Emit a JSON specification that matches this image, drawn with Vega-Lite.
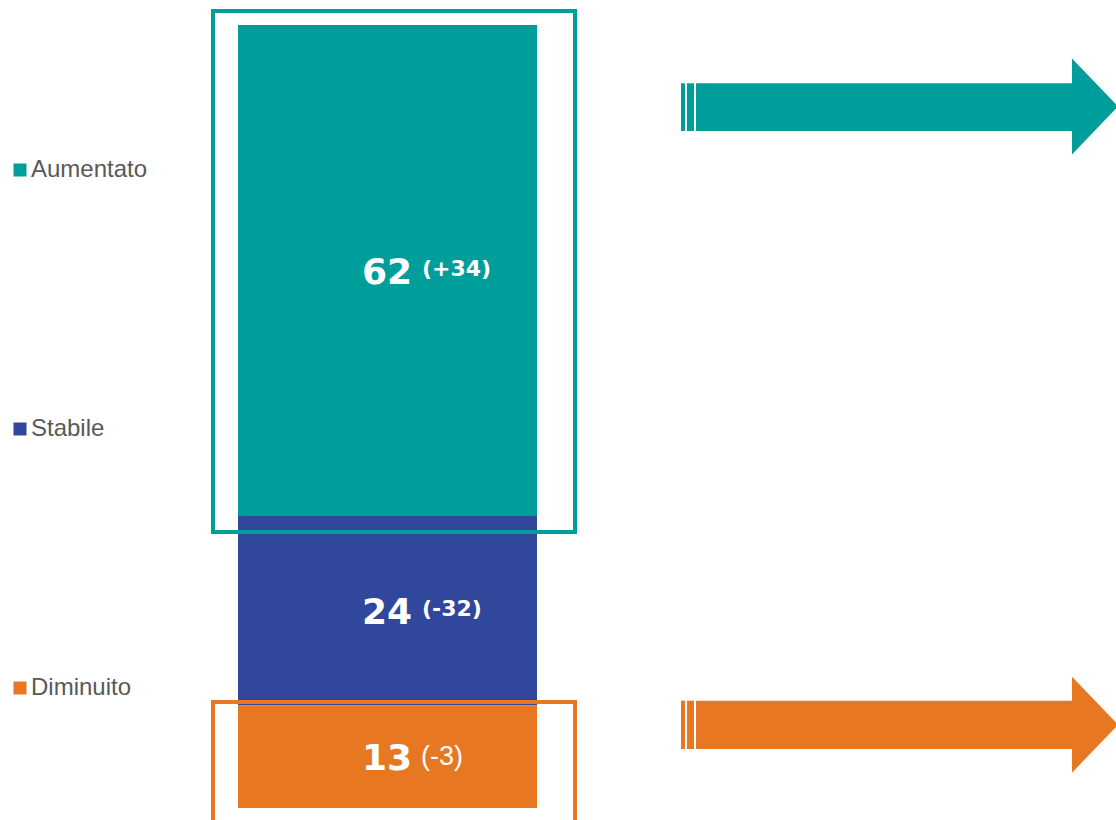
{
  "$schema": "https://vega.github.io/schema/vega-lite/v6.json",
  "width": 1116,
  "height": 820,
  "autosize": "none",
  "padding": 0,
  "background": "white",
  "config": {"view": {"stroke": null}},
  "data": {"values": [
    {"cat": "Aumentato", "value": 62, "delta": "(+34)"},
    {"cat": "Stabile", "value": 24, "delta": "(-32)"},
    {"cat": "Diminuito", "value": 13, "delta": "(-3)"}
  ]},
  "layer": [
    {
      "mark": {"type": "bar", "orient": "vertical", "strokeWidth": 0},
      "encoding": {
        "x": {"datum": 238, "type": "quantitative", "scale": {"domain": [0, 1116], "nice": false, "zero": false, "padding": 0}, "axis": null},
        "x2": {"datum": 537},
        "y": {"field": "value", "type": "quantitative", "stack": "zero", "scale": {"domain": [-1.517, 102.16], "nice": false, "zero": false, "padding": 0}, "axis": null},
        "order": {"field": "value", "sort": "ascending"},
        "color": {"field": "cat", "type": "nominal",
          "scale": {"domain": ["Aumentato", "Stabile", "Diminuito"], "range": ["#009E9B", "#31479B", "#E87722"]},
          "legend": {"orient": "none", "legendX": 8, "legendY": 158, "title": null, "padding": 0,
            "symbolType": "square", "symbolSize": 169, "symbolStrokeWidth": 0, "symbolOpacity": 1,
            "labelFont": "Liberation Sans", "labelFontSize": 24, "labelColor": "#595959", "labelOffset": -1,
            "rowPadding": 235}}
      }
    },
    {
      "data": {"values": [{}]},
      "mark": {"type": "rect", "filled": false, "stroke": "#009E9B", "strokeWidth": 4},
      "encoding": {
        "x": {"datum": 213, "type": "quantitative", "scale": {"domain": [0, 1116], "nice": false, "zero": false, "padding": 0}, "axis": null},
        "x2": {"datum": 575},
        "y": {"datum": 100.77, "type": "quantitative", "scale": {"domain": [-1.517, 102.16], "nice": false, "zero": false, "padding": 0}, "axis": null},
        "y2": {"datum": 34.9}
      }
    },
    {
      "data": {"values": [{}]},
      "mark": {"type": "rect", "filled": false, "stroke": "#E87722", "strokeWidth": 4},
      "encoding": {
        "x": {"datum": 213, "type": "quantitative", "scale": {"domain": [0, 1116], "nice": false, "zero": false, "padding": 0}, "axis": null},
        "x2": {"datum": 575},
        "y": {"datum": 13.4, "type": "quantitative", "scale": {"domain": [-1.517, 102.16], "nice": false, "zero": false, "padding": 0}, "axis": null},
        "y2": {"datum": -5}
      }
    },
    {
      "mark": {"type": "text", "font": "DejaVu Sans", "fontWeight": "bold", "fontSize": 36, "color": "white", "align": "right", "baseline": "middle", "dy": 2.5},
      "encoding": {
        "x": {"datum": 412, "type": "quantitative", "scale": {"domain": [0, 1116], "nice": false, "zero": false, "padding": 0}, "axis": null},
        "y": {"field": "value", "type": "quantitative", "stack": "zero", "bandPosition": 0.5, "scale": {"domain": [-1.517, 102.16], "nice": false, "zero": false, "padding": 0}, "axis": null},
        "order": {"field": "value", "sort": "ascending"},
        "detail": {"field": "cat"},
        "text": {"field": "value"}
      }
    },
    {
      "mark": {"type": "text", "font": "DejaVu Sans", "fontWeight": "bold", "fontSize": 22, "color": "white", "align": "left", "baseline": "middle", "dy": -1.5},
      "encoding": {
        "x": {"datum": 422, "type": "quantitative", "scale": {"domain": [0, 1116], "nice": false, "zero": false, "padding": 0}, "axis": null},
        "y": {"field": "value", "type": "quantitative", "stack": "zero", "bandPosition": 0.5, "scale": {"domain": [-1.517, 102.16], "nice": false, "zero": false, "padding": 0}, "axis": null},
        "order": {"field": "value", "sort": "ascending"},
        "detail": {"field": "cat"},
        "text": {"field": "delta"},
        "opacity": {"condition": {"test": "datum.cat === 'Diminuito'", "value": 0}, "value": 1}
      }
    },
    {
      "mark": {"type": "text", "font": "Liberation Sans", "fontWeight": "normal", "fontSize": 27, "color": "white", "align": "left", "baseline": "middle", "dy": 0},
      "encoding": {
        "x": {"datum": 421, "type": "quantitative", "scale": {"domain": [0, 1116], "nice": false, "zero": false, "padding": 0}, "axis": null},
        "y": {"field": "value", "type": "quantitative", "stack": "zero", "bandPosition": 0.5, "scale": {"domain": [-1.517, 102.16], "nice": false, "zero": false, "padding": 0}, "axis": null},
        "order": {"field": "value", "sort": "ascending"},
        "detail": {"field": "cat"},
        "text": {"field": "delta"},
        "opacity": {"condition": {"test": "datum.cat === 'Diminuito'", "value": 1}, "value": 0}
      }
    },
    {
      "data": {"values": [{}]},
      "mark": {"type": "rect", "color": "#009E9B"},
      "encoding": {
        "x": {"datum": 696, "type": "quantitative", "scale": {"domain": [0, 1116], "nice": false, "zero": false, "padding": 0}, "axis": null},
        "x2": {"datum": 1073},
        "y": {"datum": 91.63, "type": "quantitative", "scale": {"domain": [-1.517, 102.16], "nice": false, "zero": false, "padding": 0}, "axis": null},
        "y2": {"datum": 85.6}
      }
    },
    {
      "data": {"values": [{}]},
      "mark": {"type": "rect", "color": "#009E9B"},
      "encoding": {
        "x": {"datum": 681, "type": "quantitative", "scale": {"domain": [0, 1116], "nice": false, "zero": false, "padding": 0}, "axis": null},
        "x2": {"datum": 685},
        "y": {"datum": 91.63, "type": "quantitative", "scale": {"domain": [-1.517, 102.16], "nice": false, "zero": false, "padding": 0}, "axis": null},
        "y2": {"datum": 85.6}
      }
    },
    {
      "data": {"values": [{}]},
      "mark": {"type": "rect", "color": "#009E9B"},
      "encoding": {
        "x": {"datum": 687, "type": "quantitative", "scale": {"domain": [0, 1116], "nice": false, "zero": false, "padding": 0}, "axis": null},
        "x2": {"datum": 694},
        "y": {"datum": 91.63, "type": "quantitative", "scale": {"domain": [-1.517, 102.16], "nice": false, "zero": false, "padding": 0}, "axis": null},
        "y2": {"datum": 85.6}
      }
    },
    {
      "data": {"values": [{}]},
      "mark": {"type": "point", "shape": "M -1 -1 L -0.04 0 L -1 1 Z", "size": 9216, "filled": true, "opacity": 1, "strokeWidth": 0, "color": "#009E9B"},
      "encoding": {
        "x": {"datum": 1120, "type": "quantitative", "scale": {"domain": [0, 1116], "nice": false, "zero": false, "padding": 0}, "axis": null},
        "y": {"datum": 88.7, "type": "quantitative", "scale": {"domain": [-1.517, 102.16], "nice": false, "zero": false, "padding": 0}, "axis": null}
      }
    },
    {
      "data": {"values": [{}]},
      "mark": {"type": "rect", "color": "#E87722"},
      "encoding": {
        "x": {"datum": 696, "type": "quantitative", "scale": {"domain": [0, 1116], "nice": false, "zero": false, "padding": 0}, "axis": null},
        "x2": {"datum": 1073},
        "y": {"datum": 13.57, "type": "quantitative", "scale": {"domain": [-1.517, 102.16], "nice": false, "zero": false, "padding": 0}, "axis": null},
        "y2": {"datum": 7.46}
      }
    },
    {
      "data": {"values": [{}]},
      "mark": {"type": "rect", "color": "#E87722"},
      "encoding": {
        "x": {"datum": 681, "type": "quantitative", "scale": {"domain": [0, 1116], "nice": false, "zero": false, "padding": 0}, "axis": null},
        "x2": {"datum": 685},
        "y": {"datum": 13.57, "type": "quantitative", "scale": {"domain": [-1.517, 102.16], "nice": false, "zero": false, "padding": 0}, "axis": null},
        "y2": {"datum": 7.46}
      }
    },
    {
      "data": {"values": [{}]},
      "mark": {"type": "rect", "color": "#E87722"},
      "encoding": {
        "x": {"datum": 687, "type": "quantitative", "scale": {"domain": [0, 1116], "nice": false, "zero": false, "padding": 0}, "axis": null},
        "x2": {"datum": 694},
        "y": {"datum": 13.57, "type": "quantitative", "scale": {"domain": [-1.517, 102.16], "nice": false, "zero": false, "padding": 0}, "axis": null},
        "y2": {"datum": 7.46}
      }
    },
    {
      "data": {"values": [{}]},
      "mark": {"type": "point", "shape": "M -1 -1 L -0.04 0 L -1 1 Z", "size": 9216, "filled": true, "opacity": 1, "strokeWidth": 0, "color": "#E87722"},
      "encoding": {
        "x": {"datum": 1120, "type": "quantitative", "scale": {"domain": [0, 1116], "nice": false, "zero": false, "padding": 0}, "axis": null},
        "y": {"datum": 10.53, "type": "quantitative", "scale": {"domain": [-1.517, 102.16], "nice": false, "zero": false, "padding": 0}, "axis": null}
      }
    }
  ]
}
